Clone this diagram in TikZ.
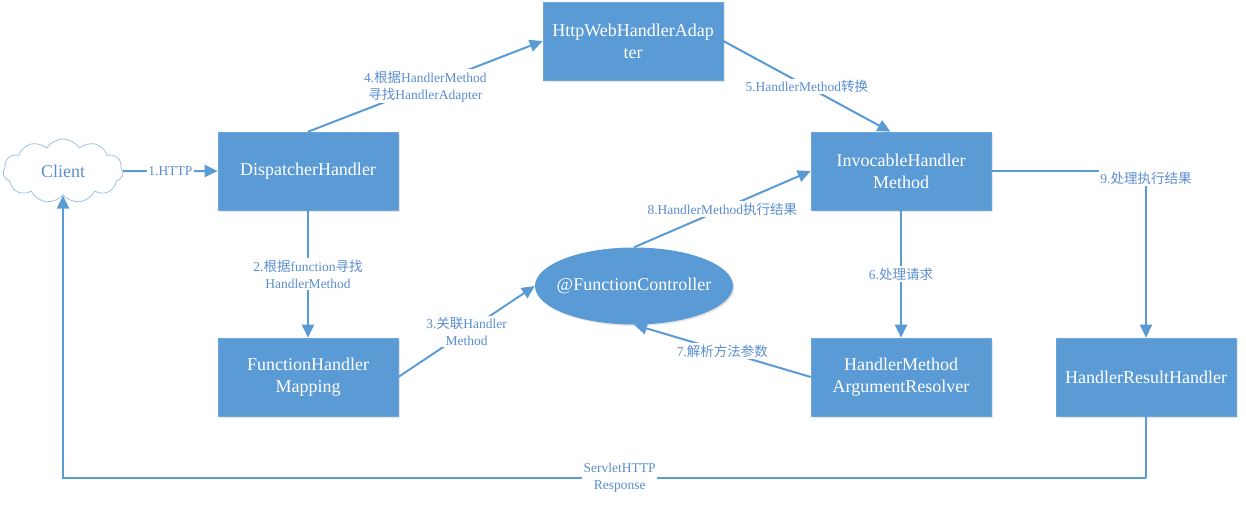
\documentclass[tikz,border=0pt]{standalone}
\usepackage{fontspec}
\setmainfont{Liberation Serif}
\newfontfamily\cjk{Noto Sans CJK SC}
\usetikzlibrary{arrows.meta,shapes.symbols,shapes.geometric,shadows}
\definecolor{boxblue}{HTML}{5B9BD5}
\definecolor{lblblue}{HTML}{5B8ED0}
\definecolor{cloudline}{HTML}{9DC3E6}

\begin{document}
\begin{tikzpicture}[x=1pt,y=-1pt,
	box/.style={rectangle,fill=boxblue,draw=boxblue!90!white,line width=0.6pt,text=white,
		minimum width=180pt,minimum height=78pt,align=center,inner sep=2pt,
		font=\fontsize{18}{22}\selectfont,
		drop shadow={shadow xshift=1.5pt,shadow yshift=-1.5pt,opacity=0.2,fill=gray}},
	conn/.style={draw=boxblue,line width=2pt,-{Triangle[length=13pt,width=12pt]}},
	plain/.style={draw=boxblue,line width=2pt},
	lbl/.style={fill=white,text=lblblue,align=center,inner sep=1.5pt,
		font=\fontsize{13.5}{17}\selectfont}]
	\useasboundingbox (0,0) rectangle (1246,504);

	%BOXES
	\node[cloud,cloud puffs=11,cloud puff arc=115,aspect=1.9,draw=cloudline,fill=white,
		line width=0.8pt,minimum width=120pt,minimum height=64pt,inner sep=0pt,
		text=lblblue,font=\fontsize{18}{22}\selectfont] (client) at (63,171) {Client};
	\node[box] (disp) at (308,171) {DispatcherHandler};
	\node[box] (map) at (308,377) {FunctionHandler\\Mapping};
	\node[box] (hwa) at (633,41) {HttpWebHandlerAdap\\ter};
	\node[box] (inv) at (901,171) {InvocableHandler\\Method};
	\node[box] (arg) at (901,377) {HandlerMethod\\ArgumentResolver};
	\node[box] (hrh) at (1146,377) {HandlerResultHandler};
	\node[ellipse,fill=boxblue,text=white,minimum width=198pt,minimum height=77pt,inner sep=0pt,
		font=\fontsize{18}{22}\selectfont,
		drop shadow={shadow xshift=1.5pt,shadow yshift=-1.5pt,opacity=0.2,fill=gray}]
		(fc) at (634,286) {\makebox[120pt]{@FunctionController}};

	%CONNECTORS
	\draw[conn] (client.east) -- node[lbl] {1.HTTP} (disp.west);
	\draw[conn] (disp.south) -- node[lbl] {2.{\cjk 根据}function{\cjk 寻找}\\HandlerMethod} (map.north);
	\draw[conn] (map.east) -- node[lbl] {3.{\cjk 关联}Handler\\Method} (fc.west);
	\draw[conn] (disp.north) -- node[lbl] {4.{\cjk 根据}HandlerMethod\\{\cjk 寻找}HandlerAdapter} (hwa.west);
	\draw[conn] (hwa.east) -- node[lbl] {5.HandlerMethod{\cjk 转换}} (inv.105);
	\draw[conn] (inv.south) -- node[lbl] {6.{\cjk 处理请求}} (arg.north);
	\draw[conn] (arg.west) -- node[lbl] {7.{\cjk 解析方法参数}} (fc.south);
	\draw[conn] (fc.north) -- node[lbl] {8.HandlerMethod{\cjk 执行结果}} (inv.west);
	\draw[conn] (inv.east) -| node[lbl,yshift=-7pt] {9.{\cjk 处理执行结果}} (hrh.north);

	%RESPONSE BACK TO CLIENT
	\coordinate (back) at (1146,478);
	\draw[plain] (hrh.south) -- (back);
	\draw[conn] (back) -| node[lbl,pos=0.243] {ServletHTTP\\Response} (client.south);
\end{tikzpicture}
\end{document}
